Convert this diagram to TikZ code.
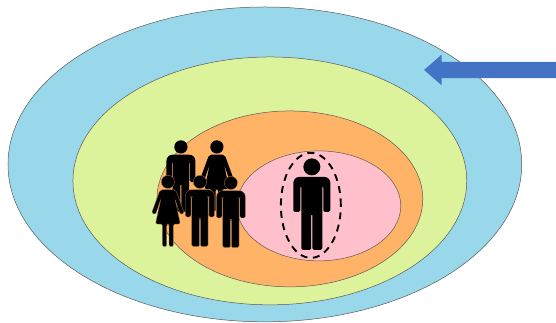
\documentclass[tikz,border=0pt]{standalone}
\usepackage{tikz}
\usetikzlibrary{shapes.geometric, shapes.arrows}
\definecolor{ringA}{HTML}{99D8EA}
\definecolor{ringB}{HTML}{DDF39B}
\definecolor{ringC}{HTML}{FFB366}
\definecolor{ringD}{HTML}{FFC0CB}
\definecolor{pointer}{HTML}{4472C4}
\begin{document}
\begin{tikzpicture}[
  x=1pt, y=-1pt,
  ring/.style={ellipse, draw=black!65, line width=0.5pt, inner sep=0pt, outer sep=0pt},
  figure/.style={fill=black},
  edged/.style={figure/.style={fill=black, draw=ringC!70!black, line width=0.3pt}},
  man/.pic={
    \path[figure] (0,0) circle (8.5);
    \path[figure, rounded corners=1.5pt]
      (-18.5,45) [rounded corners=6pt] -- (-18.5,10) -- (18.5,10) [rounded corners=1.5pt]
      -- (18.5,45) -- (11.5,45) -- (11.5,19)
      -- (10.5,19) -- (10.5,83) -- (0.6,83) -- (0.6,47) -- (-0.6,47) -- (-0.6,83)
      -- (-10.5,83) -- (-10.5,19) -- (-11.5,19) -- (-11.5,45) -- cycle;
  },
  woman/.pic={
    \path[figure] (0,0) circle (8.5);
    \path[figure, rounded corners=2pt]
      (-10,10) -- (10,10) -- (21,40) -- (16,42) -- (9,22) -- (16,54) -- (7,54)
      -- (7,83) -- (1.5,83) -- (1.5,54) -- (-1.5,54) -- (-1.5,83) -- (-7,83)
      -- (-7,54) -- (-16,54) -- (-9,22) -- (-16,42) -- (-21,40) -- cycle;
  }
]

% ================= nested rings =================
\node[ring, fill=ringA, minimum width=514pt, minimum height=315pt] (outer) at (265,164.5) {};
\node[ring, fill=ringB, minimum width=394pt, minimum height=248pt] (middle) at (270,181) {};
\node[ring, fill=ringC, minimum width=266pt, minimum height=176pt] (inner) at (290,199) {};
\node[ring, fill=ringD, minimum width=164pt, minimum height=110pt] (core) at (319,206) {};

% ================= people =================
\pic[scale=0.78] at (181,147) {man};
\pic[scale=0.78] at (217,147) {woman};
\pic[scale=0.78, edged] at (168,182) {woman};
\pic[scale=0.78, edged] at (200,182) {man};
\pic[scale=0.78, edged] at (231,183) {man};

\pic at (312,167) {man};
\node[ellipse, draw=black, line width=1.9pt, dash pattern=on 7pt off 5.5pt, inner sep=0pt,
      minimum width=60pt, minimum height=105pt] (marker) at (311,205.5) {};

% ================= pointer =================
\node[single arrow, fill=pointer, draw=none, shape border rotate=180, inner sep=8pt, outer sep=0pt,
      single arrow head extend=7pt, single arrow tip angle=82, minimum height=132pt] (pointer) at (495,70) {};

\useasboundingbox (0,0) rectangle (556,323);
\end{tikzpicture}
\end{document}
